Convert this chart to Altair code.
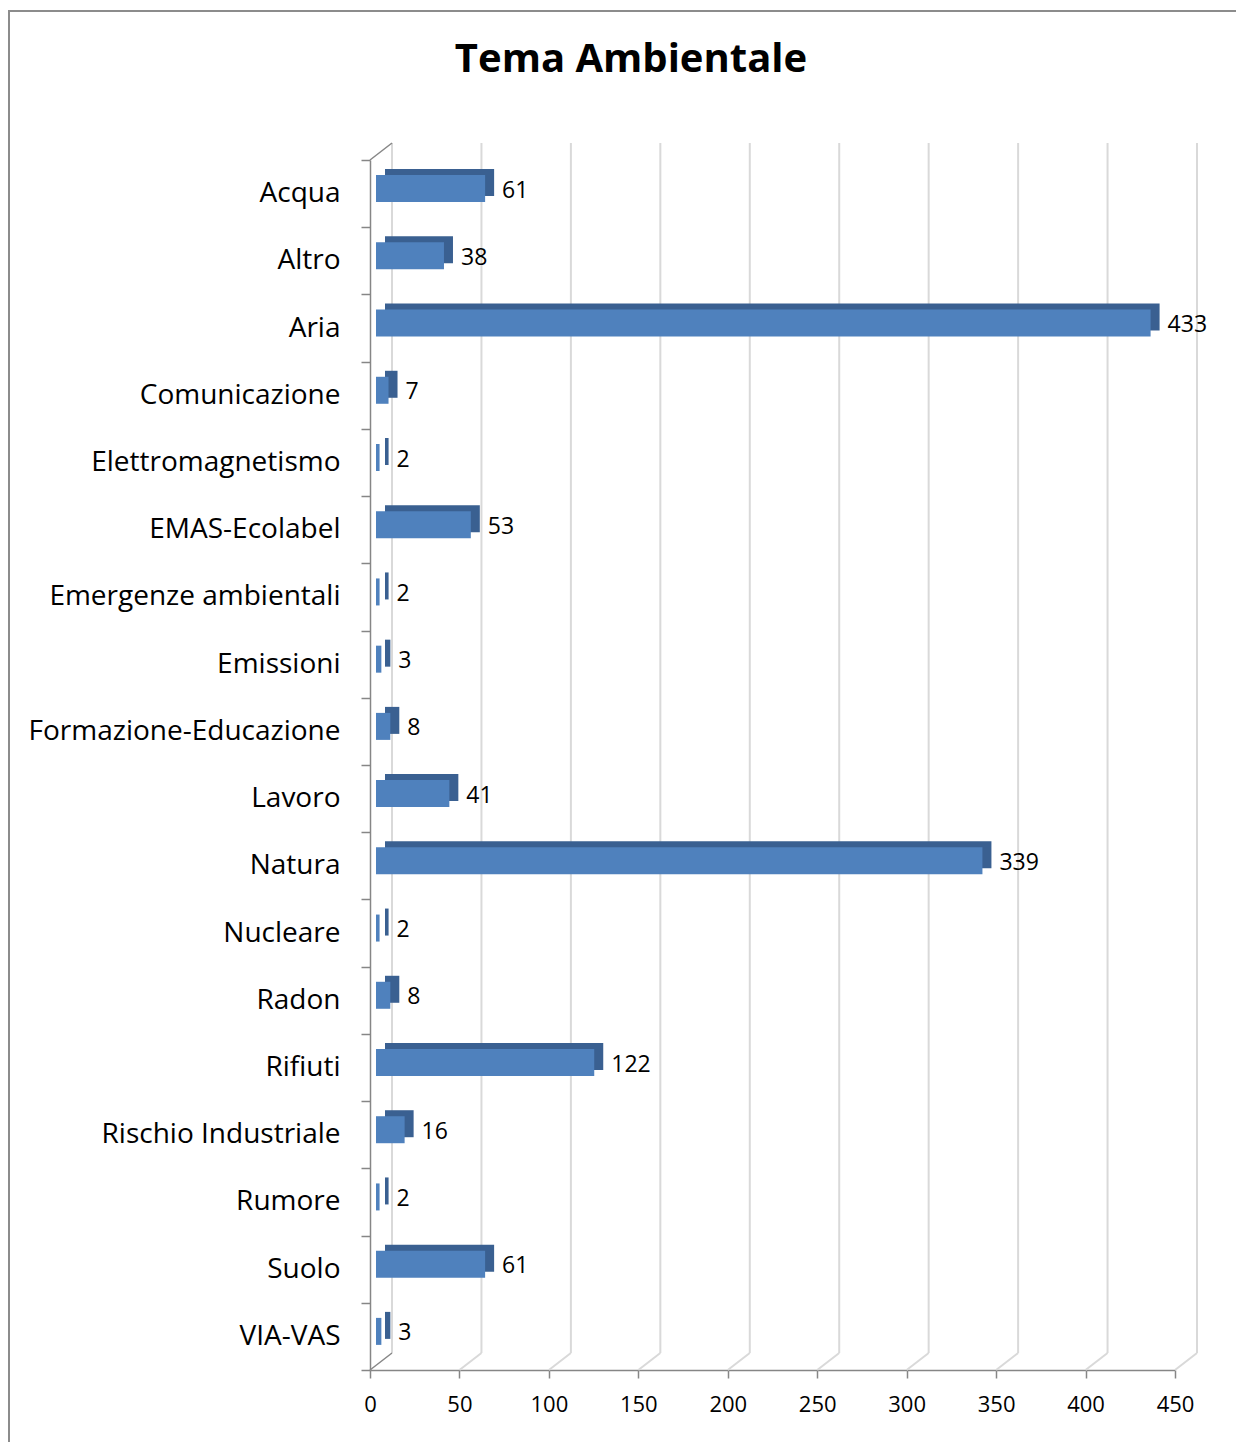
import altair as alt
import pandas as pd

categories = ["Acqua", "Altro", "Aria", "Comunicazione", "Elettromagnetismo",
              "EMAS-Ecolabel", "Emergenze ambientali", "Emissioni",
              "Formazione-Educazione", "Lavoro", "Natura", "Nucleare", "Radon",
              "Rifiuti", "Rischio Industriale", "Rumore", "Suolo", "VIA-VAS"]
values = [61, 38, 433, 7, 2, 53, 2, 3, 8, 41, 339, 2, 8, 122, 16, 2, 61, 3]
x_ticks = [0, 50, 100, 150, 200, 250, 300, 350, 400, 450]
title_text = "Tema Ambientale"

W, H = 805, 1210
FONT = "Open Sans"
AXIS_GRAY = "#868686"
GRID_GRAY = "#D9D9D9"
DX, DY = 22, -17  # depth of the 3D box

df = pd.DataFrame({"cat": categories, "val": values})
grid_df = pd.DataFrame({"v": x_ticks})
one_df = pd.DataFrame({"t": [title_text]})

xscale = alt.Scale(domain=[0, 450], nice=False, zero=True)
yscale = alt.Scale(domain=categories, paddingInner=0, paddingOuter=0)

x_enc = alt.X("val:Q", scale=xscale,
              axis=alt.Axis(values=x_ticks, title=None, grid=False, tickSize=8, tickColor=AXIS_GRAY,
                            tickWidth=1.5, domainColor=AXIS_GRAY, domainWidth=1.5, labelFlush=False,
                            labelFont=FONT, labelFontSize=22, labelColor="#000000", labelPadding=16))
y_enc = alt.Y("cat:N", scale=yscale, sort=categories,
              axis=alt.Axis(title=None, grid=False, tickBand="extent", tickSize=9, tickColor=AXIS_GRAY,
                            tickWidth=1.5, domainColor=AXIS_GRAY, domainWidth=1.5, labelLimit=400,
                            labelFont=FONT, labelFontSize=28, labelColor="#000000", labelPadding=21))

frame = alt.Chart(one_df).mark_rect(filled=False, stroke="#8C8C8C", strokeWidth=2).encode(
    x=alt.value(-361), x2=alt.value(1000), y=alt.value(-149), y2=alt.value(2000)
)

title = alt.Chart(one_df).mark_text(font=FONT, fontSize=40, fontWeight="bold", color="#000000",
                                    align="center", baseline="alphabetic").encode(
    x=alt.value(261), y=alt.value(-88), text="t:N"
)

back_grid = alt.Chart(grid_df).mark_rule(color=GRID_GRAY, strokeWidth=2, xOffset=DX, yOffset=DY, y2Offset=DY).encode(
    x=alt.X("v:Q", scale=xscale),
    y=alt.value(0), y2=alt.value(H)
)

floor_grid = alt.Chart(grid_df).transform_filter("datum.v > 0").mark_rule(
    color=GRID_GRAY, strokeWidth=2, x2Offset=DX, y2Offset=DY).encode(
    x=alt.X("v:Q", scale=xscale), x2="v:Q",
    y=alt.value(H), y2=alt.value(H)
)

edge_top = alt.Chart(grid_df).transform_filter("datum.v == 0").mark_rule(
    color=AXIS_GRAY, strokeWidth=1.5, x2Offset=DX, y2Offset=DY).encode(
    x=alt.X("v:Q", scale=xscale), x2="v:Q",
    y=alt.value(0), y2=alt.value(0)
)
edge_bottom = alt.Chart(grid_df).transform_filter("datum.v == 0").mark_rule(
    color=AXIS_GRAY, strokeWidth=1.5, x2Offset=DX, y2Offset=DY).encode(
    x=alt.X("v:Q", scale=xscale), x2="v:Q",
    y=alt.value(H), y2=alt.value(H)
)

bar_back = alt.Chart(df).mark_bar(height=27, xOffset=15, x2Offset=15, yOffset=-11, y2Offset=-11,
                                  color="#3A6091").encode(x=x_enc, y=y_enc)

bar_front = alt.Chart(df).mark_bar(height=27, xOffset=6, x2Offset=6, yOffset=-5, y2Offset=-5,
                                   color="#4F81BD").encode(x=x_enc, y=y_enc)

labels = alt.Chart(df).mark_text(align="left", baseline="middle", dx=23, dy=-3,
                                 font=FONT, fontSize=23, color="#000000").encode(
    x=x_enc, y=y_enc, text="val:Q"
)

chart = alt.layer(frame, title, back_grid, floor_grid, edge_top, edge_bottom,
                  bar_back, bar_front, labels).properties(
    width=W, height=H,
    autosize=alt.AutoSizeParams(type="none"),
    padding={"left": 362, "top": 152, "right": 61, "bottom": 72},
).configure_view(stroke=None)

chart.save("out.html", embed_options={"renderer": "svg", "actions": False})
